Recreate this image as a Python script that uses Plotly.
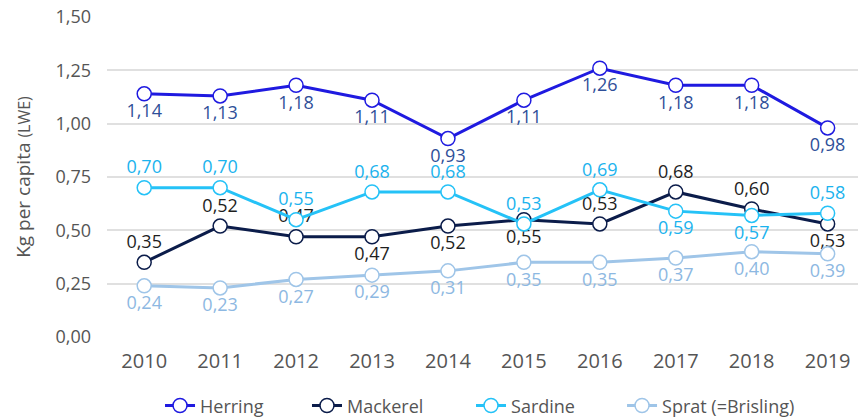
import plotly.graph_objects as go

years = ["2010", "2011", "2012", "2013", "2014", "2015", "2016", "2017", "2018", "2019"]
herring = [1.14, 1.13, 1.18, 1.11, 0.93, 1.11, 1.26, 1.18, 1.18, 0.98]
mackerel = [0.35, 0.52, 0.47, 0.47, 0.52, 0.55, 0.53, 0.68, 0.60, 0.53]
sardine = [0.70, 0.70, 0.55, 0.68, 0.68, 0.53, 0.69, 0.59, 0.57, 0.58]
sprat = [0.24, 0.23, 0.27, 0.29, 0.31, 0.35, 0.35, 0.37, 0.40, 0.39]

FONT = "Open Sans"
x = list(range(len(years)))

series = [
    ("Herring", herring, "#1F1AE0", "#2F4F99", ["bottom center"] * 10),
    ("Mackerel", mackerel, "#0B1C4A", "#1E1E1E",
     ["top center", "top center", "top center", "bottom center", "bottom center",
      "bottom center", "top center", "top center", "top center", "bottom center"]),
    ("Sardine", sardine, "#25C2F7", "#1BB3EE",
     ["top center"] * 7 + ["bottom center", "bottom center", "top center"]),
    ("Sprat (=Brisling)", sprat, "#9FC5E8", "#8DB8E2", ["bottom center"] * 10),
]
legend_ids = ["legend", "legend2", "legend3", "legend4"]
legend_x = [0.0706, 0.2663, 0.4847, 0.6858]

fig = go.Figure()
for (name, vals, lc, tc, pos), lid in zip(series, legend_ids):
    fig.add_trace(go.Scatter(
        x=x, y=vals, name=name, mode="lines+markers+text",
        line=dict(color=lc, width=3),
        marker=dict(size=14, color="white", line=dict(color=lc, width=1.5)),
        texttemplate="%{y:.2f}", textposition=pos,
        textfont=dict(family=FONT, size=18, color=tc),
        cliponaxis=False, legend=lid,
    ))

legend_style = dict(orientation="h", xanchor="left", y=-0.215, yanchor="middle",
                    font=dict(size=18, color="#555555"), bgcolor="rgba(0,0,0,0)")
legends = {lid: dict(legend_style, x=lx) for lid, lx in zip(legend_ids, legend_x)}

fig.update_layout(
    width=859, height=419,
    margin=dict(l=107, r=1, t=17, b=82, autoexpand=False),
    paper_bgcolor="white", plot_bgcolor="white",
    separators=", ",
    font=dict(family=FONT, color="#555555"),
    xaxis=dict(
        range=[-0.49, 9.4], tickmode="array", tickvals=x, ticktext=years,
        showgrid=False, zeroline=False, showline=False,
        tickfont=dict(size=20, color="#555555"), ticks="", automargin=False,
        ticklabelstandoff=10,
    ),
    yaxis=dict(
        range=[0, 1.5], tickvals=[0, 0.25, 0.5, 0.75, 1.0, 1.25, 1.5],
        tickformat=".2f", showgrid=True, gridcolor="#E0E0E0", gridwidth=1.5,
        zeroline=False, showline=False, automargin=False,
        tickfont=dict(size=18, color="#555555"), ticklabelstandoff=15,
        title=dict(text="Kg per capita <span style='font-size:16px'>(LWE)</span>",
                   font=dict(size=19, color="#555555"), standoff=19),
    ),
    showlegend=True,
    **legends,
)

fig.write_html("out.html", config={"displayModeBar": False},
               post_script="document.body.style.margin='0';document.body.style.overflow='hidden';")
